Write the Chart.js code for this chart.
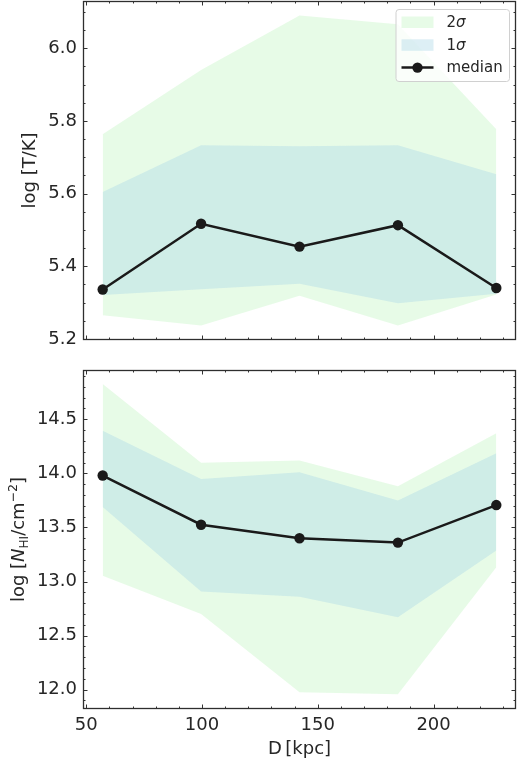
<!DOCTYPE html>
<html><head><meta charset="utf-8">
<script src="https://cdn.jsdelivr.net/npm/chart.js@4.4.0/dist/chart.umd.min.js"></script>
<style>
html,body{margin:0;padding:0;background:#fff;overflow:hidden;width:517px;height:764px}
#w1{position:absolute;left:0;top:0;width:517px;height:360px}
#w2{position:absolute;left:0;top:360px;width:517px;height:404px}
</style></head><body>
<div id="w1"><canvas id="c1"></canvas></div>
<div id="w2"><canvas id="c2"></canvas></div>
<script>
// ---- data ----
const distances = [57.1, 99.6, 142.1, 184.6, 227.1];
const tMedian    = [5.336, 5.517, 5.454, 5.513, 5.340];
const tSig1Upper = [5.604, 5.733, 5.730, 5.733, 5.653];
const tSig1Lower = [5.321, 5.337, 5.352, 5.298, 5.324];
const tSig2Upper = [5.763, 5.940, 6.090, 6.066, 5.777];
const tSig2Lower = [5.265, 5.237, 5.319, 5.237, 5.322];
const nMedian    = [13.98, 13.525, 13.40, 13.36, 13.707];
const nSig1Upper = [14.395, 13.948, 14.01, 13.75, 14.185];
const nSig1Lower = [13.69, 12.907, 12.858, 12.67, 13.287];
const nSig2Upper = [14.827, 14.099, 14.118, 13.88, 14.37];
const nSig2Lower = [13.053, 12.70, 11.976, 11.958, 13.133];
const xTickLabels = [50, 100, 150, 200];
const tTickLabels = [5.2, 5.4, 5.6, 5.8, 6.0];
const nTickLabels = [12.0, 12.5, 13.0, 13.5, 14.0, 14.5];
const legendLabels = ['2σ', '1σ', 'median'];

const FONT = "'DejaVu Sans', sans-serif";
const TXT = '#262626';
const C2 = 'rgba(144,238,144,0.22)';
const C1 = 'rgba(173,216,230,0.42)';
const CM = '#1a1a1a';

function pts(ys){ return distances.map((x,i)=>({x:x, y:ys[i]})); }
function range(a,b,s){ const r=[]; for(let v=a; v<=b+1e-9; v+=s) r.push(Math.round(v*1000)/1000); return r; }

function datasets(s2u,s2l,s1u,s1l,med){
  return [
    {label:legendLabels[0], data:pts(s2u), fill:1, backgroundColor:C2, borderWidth:0, pointRadius:0, order:3, legendKind:'patch'},
    {label:'', data:pts(s2l), fill:false, borderWidth:0, pointRadius:0, order:3},
    {label:legendLabels[1], data:pts(s1u), fill:3, backgroundColor:C1, borderWidth:0, pointRadius:0, order:2, legendKind:'patch'},
    {label:'', data:pts(s1l), fill:false, borderWidth:0, pointRadius:0, order:2},
    {label:legendLabels[2], data:pts(med), fill:false, borderColor:CM, backgroundColor:CM, borderWidth:2.5,
     pointRadius:5.2, pointBackgroundColor:CM, pointBorderColor:CM, pointBorderWidth:0, order:1, legendKind:'line'}
  ];
}

// inward ticks on four sides + frame
const frameTicks = {
  id:'frameTicks',
  afterDatasetsDraw(chart, args, o){
    const {ctx, chartArea:a, scales:{x,y}} = chart;
    ctx.save();
    ctx.strokeStyle = '#333'; ctx.lineWidth = 1;
    const xMaj = o.xMajor, xMin = o.xMinor, yMaj = o.yMajor, yMin = o.yMinor;
    function xt(v,len){ const p=Math.round(x.getPixelForValue(v))+0.5; if(p<a.left||p>a.right) return;
      ctx.beginPath(); ctx.moveTo(p,a.bottom); ctx.lineTo(p,a.bottom-len); ctx.moveTo(p,a.top); ctx.lineTo(p,a.top+len); ctx.stroke(); }
    function yt(v,len){ const p=Math.round(y.getPixelForValue(v))+0.5; if(p<a.top||p>a.bottom) return;
      ctx.beginPath(); ctx.moveTo(a.left,p); ctx.lineTo(a.left+len,p); ctx.moveTo(a.right,p); ctx.lineTo(a.right-len,p); ctx.stroke(); }
    xMin.forEach(v=>xt(v,2.5)); xMaj.forEach(v=>xt(v,4.5));
    yMin.forEach(v=>yt(v,2.5)); yMaj.forEach(v=>yt(v,4.5));
    ctx.lineWidth = 1.3; ctx.strokeStyle = '#2e2e2e';
    ctx.strokeRect(a.left+0.5, a.top+0.5, a.right-a.left-1, a.bottom-a.top-1);
    ctx.restore();
  }
};

// axis titles (with sub/superscripts)
const axisTitles = {
  id:'axisTitles',
  afterDraw(chart, args, o){
    const {ctx, chartArea:a} = chart;
    ctx.save();
    ctx.fillStyle = TXT;
    if (o.yParts){
      const parts = o.yParts;
      let total = 0;
      parts.forEach(p=>{ ctx.font = p.font; p.w = ctx.measureText(p.t).width; total += p.w; });
      const cy = (a.top+a.bottom)/2;
      ctx.translate(o.yX, cy); ctx.rotate(-Math.PI/2);
      ctx.textBaseline = 'alphabetic'; ctx.textAlign = 'left';
      let cx = -total/2;
      parts.forEach(p=>{ ctx.font = p.font; ctx.fillText(p.t, cx, o.yBase + (p.dy||0)); cx += p.w; });
      ctx.setTransform(1,0,0,1,0,0);
    }
    if (o.xText){
      ctx.font = o.xFont; ctx.textAlign='center'; ctx.textBaseline='alphabetic';
      ctx.fillText(o.xText, (a.left+a.right)/2, o.xY);
    }
    ctx.restore();
  }
};

// legend drawn inside the top panel from the dataset labels/colours
const innerLegend = {
  id:'innerLegend',
  afterDraw(chart, args, o){
    if(!o.show) return;
    const {ctx, chartArea:a} = chart;
    const items = chart.data.datasets.filter(d=>d.legendKind);
    const w = 113.5, rowH = 22.8;
    const h = 72;
    const L = a.right - 7 - w, T = a.top + 8;
    ctx.save();
    ctx.beginPath();
    if (ctx.roundRect) ctx.roundRect(L+0.5, T+0.5, w, h, 3); else ctx.rect(L+0.5,T+0.5,w,h);
    ctx.fillStyle = 'rgba(255,255,255,0.8)'; ctx.fill();
    ctx.strokeStyle = '#d0d0d0'; ctx.lineWidth = 1; ctx.stroke();
    ctx.textBaseline = 'middle'; ctx.textAlign = 'left';
    items.forEach((d,i)=>{
      const cy = T + 13 + i*rowH;
      const bx = L + 6;
      if(d.legendKind==='patch'){
        ctx.fillStyle = d.backgroundColor; ctx.fillRect(bx, cy-5.5, 32, 11.5);
      } else {
        ctx.strokeStyle = d.borderColor; ctx.lineWidth = 2.5;
        ctx.beginPath(); ctx.moveTo(bx, cy); ctx.lineTo(bx+32, cy); ctx.stroke();
        ctx.fillStyle = d.borderColor; ctx.beginPath(); ctx.arc(bx+16, cy, 5.2, 0, Math.PI*2); ctx.fill();
      }
      ctx.fillStyle = TXT;
      const lab = d.label;
      let tx = L + 51;
      if (lab.endsWith('σ')) {
        const pre = lab.slice(0, -1);
        ctx.font = "15px " + FONT; ctx.fillText(pre, tx, cy+1);
        tx += ctx.measureText(pre).width;
        ctx.font = "italic 15px " + FONT; ctx.fillText('σ', tx, cy+1);
      } else {
        ctx.font = "15px " + FONT; ctx.fillText(lab, tx, cy+1);
      }
    });
    ctx.restore();
  }
};

function zeroPad(s){ s.paddingTop = 0; s.paddingBottom = 0; s.paddingLeft = 0; s.paddingRight = 0; }

function makeChart(id, dsets, yMin, yMax, yTicks, yMinor, showX, padTop, xAxisH, titleOpts, showLegend){
  return new Chart(document.getElementById(id), {
    type:'line',
    data:{datasets:dsets},
    plugins:[frameTicks, axisTitles, innerLegend],
    options:{
      responsive:true, maintainAspectRatio:false, animation:false,
      layout:{autoPadding:false, padding:{top:padTop, right:1, left:0, bottom:0}},
      plugins:{
        legend:{display:false}, tooltip:{enabled:false},
        filler:{propagate:false},
        frameTicks:{xMajor:xTickLabels, xMinor:range(50,230,10), yMajor:yTicks, yMinor:yMinor},
        axisTitles:titleOpts,
        innerLegend:{show:showLegend}
      },
      scales:{
        x:{type:'linear', min:48.6, max:235.6,
           grid:{display:false, drawTicks:false}, border:{display:false},
           afterBuildTicks:(s)=>{ s.ticks = xTickLabels.map(v=>({value:v})); },
           afterFit:(s)=>{ s.height = xAxisH; zeroPad(s); },
           ticks:{display:showX, padding:6, color:TXT, font:{family:FONT, size:18}, maxRotation:0, autoSkip:false,
                  callback:(v)=>String(v)}},
        y:{type:'linear', min:yMin, max:yMax,
           grid:{display:false, drawTicks:false}, border:{display:false},
           afterBuildTicks:(s)=>{ s.ticks = yTicks.map(v=>({value:v})); },
           afterFit:(s)=>{ s.width = 83; zeroPad(s); },
           ticks:{padding:6, color:TXT, font:{family:FONT, size:18}, autoSkip:false,
                  callback:(v)=>Number(v).toFixed(1)}}
      }
    }
  });
}

const F18 = "18px " + FONT;
makeChart('c1', datasets(tSig2Upper,tSig2Lower,tSig1Upper,tSig1Lower,tMedian),
  5.197, 6.130, tTickLabels, range(5.2,6.1,0.05), false, 1, 20,
  {yX:29, yBase:6, yParts:[{t:'log [T/K]', font:F18}]}, true);

makeChart('c2', datasets(nSig2Upper,nSig2Lower,nSig1Upper,nSig1Lower,nMedian),
  11.821, 14.956, nTickLabels, range(11.9,14.9,0.1), true, 10, 55,
  {yX:17.5, yBase:6,
   yParts:[{t:'log [', font:F18},{t:'N', font:"italic 18px "+FONT},{t:'HI', font:"12px "+FONT, dy:4},
           {t:'/cm', font:F18},{t:'\u22122', font:"12.5px "+FONT, dy:-7},{t:']', font:F18}],
   xText:'D\u2009[kpc]', xFont:F18, xY:394}, false);
</script>
</body></html>
